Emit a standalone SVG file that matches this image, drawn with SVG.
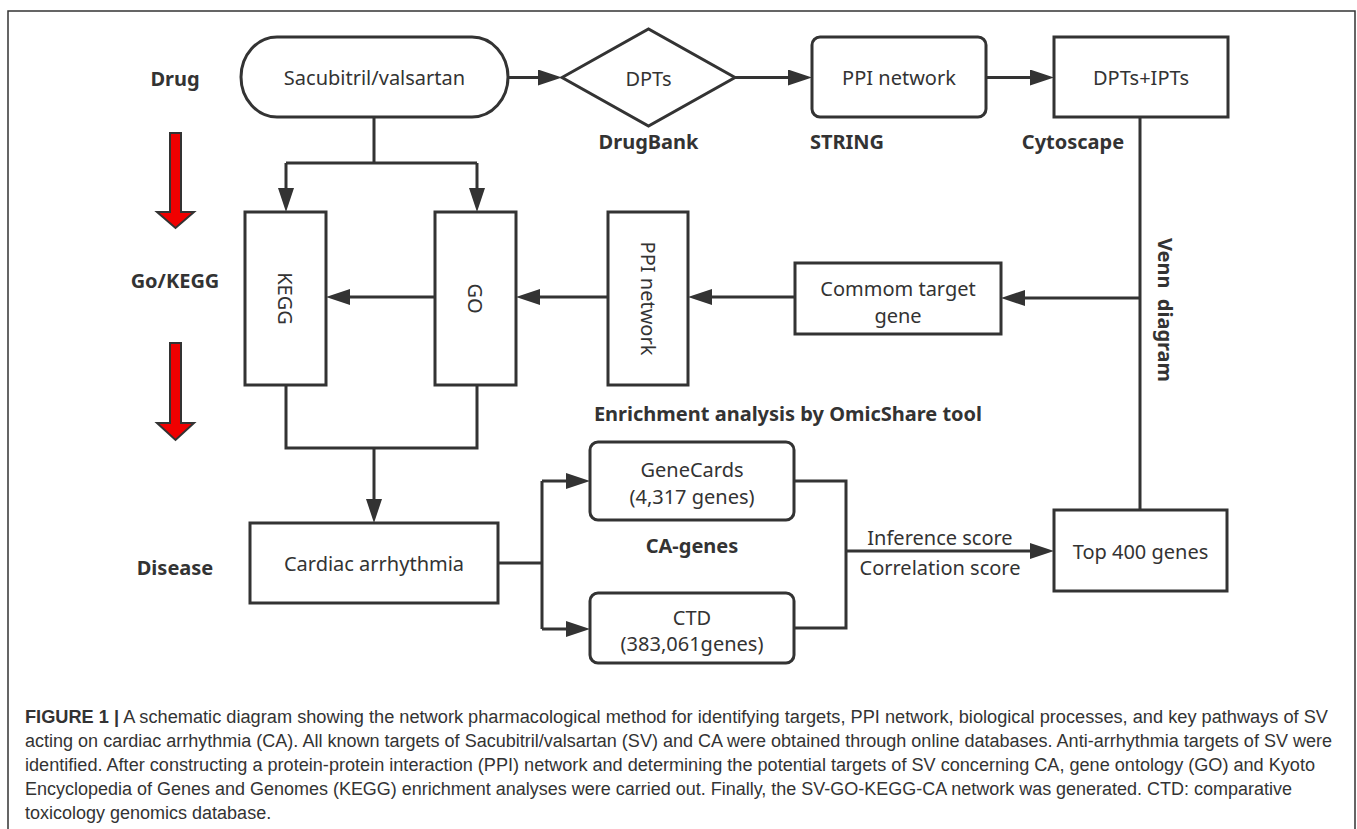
<svg xmlns="http://www.w3.org/2000/svg" width="1357" height="829" viewBox="0 0 1357 829">
<style>
.box{fill:#fff;stroke:#333;stroke-width:3}
.t{font-family:"Noto Sans","Open Sans",sans-serif;font-size:20px;fill:#333;text-anchor:middle;dominant-baseline:central}
.b{font-family:"Noto Sans","Open Sans",sans-serif;font-size:20px;font-weight:bold;fill:#333;text-anchor:middle;dominant-baseline:central}
.c{fill:none;stroke:#333;stroke-width:3}
.red{fill:#f00000;stroke:#333;stroke-width:2}
.cap{font-family:"Liberation Sans",Arial,sans-serif;font-size:18px;fill:#333}
</style>
<defs>
<marker id="ah" markerUnits="userSpaceOnUse" markerWidth="24" markerHeight="16" refX="16" refY="8" orient="auto">
<path d="M0,0 L24,8 L0,16 z" fill="#333"/>
</marker>
</defs>
<path d="M8,835 L8,11 L1355,11 L1355,835" fill="none" stroke="#333" stroke-width="1.5"/>

<g id="labels">
<text class="b" x="175" y="78">Drug</text>
<text class="b" x="175" y="280">Go/KEGG</text>
<text class="b" x="175" y="567">Disease</text>
<text class="b" x="648.5" y="141">DrugBank</text>
<text class="b" x="847" y="141">STRING</text>
<text class="b" x="1073" y="141">Cytoscape</text>
<text class="b" x="1165" y="310" transform="rotate(90 1165 310)" xml:space="preserve">Venn  diagram</text>
<text class="b" x="788" y="413">Enrichment analysis by OmicShare tool</text>
<text class="b" x="692" y="545">CA-genes</text>
<text class="t" x="940" y="537">Inference score</text>
<text class="t" x="940" y="567">Correlation score</text>
</g>

<g id="red-arrows">
<polygon class="red" points="170,133 181,133 181,212 194,212 175.5,228 157,212 170,212"/>
<polygon class="red" points="170,343 181,343 181,423 194,423 175.5,440 157,423 170,423"/>
</g>

<g id="node-sv">
<rect class="box" x="241" y="37" width="267" height="80" rx="36" ry="40"/>
<text class="t" x="374.5" y="77">Sacubitril/valsartan</text>
</g>
<g id="node-dpts">
<polygon class="box" points="562,77.5 648.5,29 735,77.5 648.5,126"/>
<text class="t" x="648.5" y="78">DPTs</text>
</g>
<g id="node-ppi-top">
<rect class="box" x="812" y="37" width="174" height="80" rx="8"/>
<text class="t" x="899" y="77">PPI network</text>
</g>
<g id="node-dpts-ipts">
<rect class="box" x="1054" y="37" width="174" height="80"/>
<text class="t" x="1141" y="77">DPTs+IPTs</text>
</g>
<g id="node-kegg">
<rect class="box" x="245" y="212" width="81" height="173"/>
<text class="t" x="285.5" y="298.5" transform="rotate(90 285.5 298.5)">KEGG</text>
</g>
<g id="node-go">
<rect class="box" x="435" y="212" width="81" height="173"/>
<text class="t" x="475.5" y="298.5" transform="rotate(90 475.5 298.5)">GO</text>
</g>
<g id="node-ppi-v">
<rect class="box" x="608" y="212" width="80" height="173"/>
<text class="t" x="648" y="298.5" transform="rotate(90 648 298.5)">PPI network</text>
</g>
<g id="node-common">
<rect class="box" x="795" y="263" width="206" height="71"/>
<text class="t" x="898" y="288">Commom target</text>
<text class="t" x="898" y="315">gene</text>
</g>
<g id="node-cardiac">
<rect class="box" x="250" y="523" width="248" height="80"/>
<text class="t" x="374" y="563">Cardiac arrhythmia</text>
</g>
<g id="node-genecards">
<rect class="box" x="590" y="442" width="204" height="78" rx="8"/>
<text class="t" x="692" y="469">GeneCards</text>
<text class="t" x="692" y="496">(4,317 genes)</text>
</g>
<g id="node-ctd">
<rect class="box" x="590" y="593" width="204" height="70" rx="8"/>
<text class="t" x="692" y="617">CTD</text>
<text class="t" x="692" y="643">(383,061genes)</text>
</g>
<g id="node-top400">
<rect class="box" x="1054" y="510" width="173" height="81"/>
<text class="t" x="1140.5" y="551">Top 400 genes</text>
</g>

<g id="connectors">
<path class="c" d="M508,77.5 L554,77.5" marker-end="url(#ah)"/>
<path class="c" d="M735,77.5 L804,77.5" marker-end="url(#ah)"/>
<path class="c" d="M986,77.5 L1046,77.5" marker-end="url(#ah)"/>
<path class="c" d="M1140,117 L1140,510"/>
<path class="c" d="M1140,298 L1009,298" marker-end="url(#ah)"/>
<path class="c" d="M795,297 L696,297" marker-end="url(#ah)"/>
<path class="c" d="M608,297 L524,297" marker-end="url(#ah)"/>
<path class="c" d="M435,297 L334,297" marker-end="url(#ah)"/>
<path class="c" d="M374,117 L374,163 M286,163 L477,163"/>
<path class="c" d="M286,163 L286,204" marker-end="url(#ah)"/>
<path class="c" d="M477,163 L477,204" marker-end="url(#ah)"/>
<path class="c" d="M286,385 L286,448 L477,448 L477,385"/>
<path class="c" d="M374,448 L374,515" marker-end="url(#ah)"/>
<path class="c" d="M498,563 L542,563 M542,481 L542,629"/>
<path class="c" d="M542,481 L582,481" marker-end="url(#ah)"/>
<path class="c" d="M542,629 L582,629" marker-end="url(#ah)"/>
<path class="c" d="M794,481 L846,481 L846,628 L794,628"/>
<path class="c" d="M846,551 L1046,551" marker-end="url(#ah)"/>
</g>

<g id="caption" class="cap">
<text x="25" y="723" textLength="1303" lengthAdjust="spacingAndGlyphs"><tspan font-weight="bold">FIGURE 1 |</tspan> A schematic diagram showing the network pharmacological method for identifying targets, PPI network, biological processes, and key pathways of SV</text>
<text x="25" y="747" textLength="1307" lengthAdjust="spacingAndGlyphs">acting on cardiac arrhythmia (CA). All known targets of Sacubitril/valsartan (SV) and CA were obtained through online databases. Anti-arrhythmia targets of SV were</text>
<text x="25" y="771" textLength="1290" lengthAdjust="spacingAndGlyphs">identified. After constructing a protein-protein interaction (PPI) network and determining the potential targets of SV concerning CA, gene ontology (GO) and Kyoto</text>
<text x="25" y="795" textLength="1267" lengthAdjust="spacingAndGlyphs">Encyclopedia of Genes and Genomes (KEGG) enrichment analyses were carried out. Finally, the SV-GO-KEGG-CA network was generated. CTD: comparative</text>
<text x="25" y="819">toxicology genomics database.</text>
</g>
</svg>
